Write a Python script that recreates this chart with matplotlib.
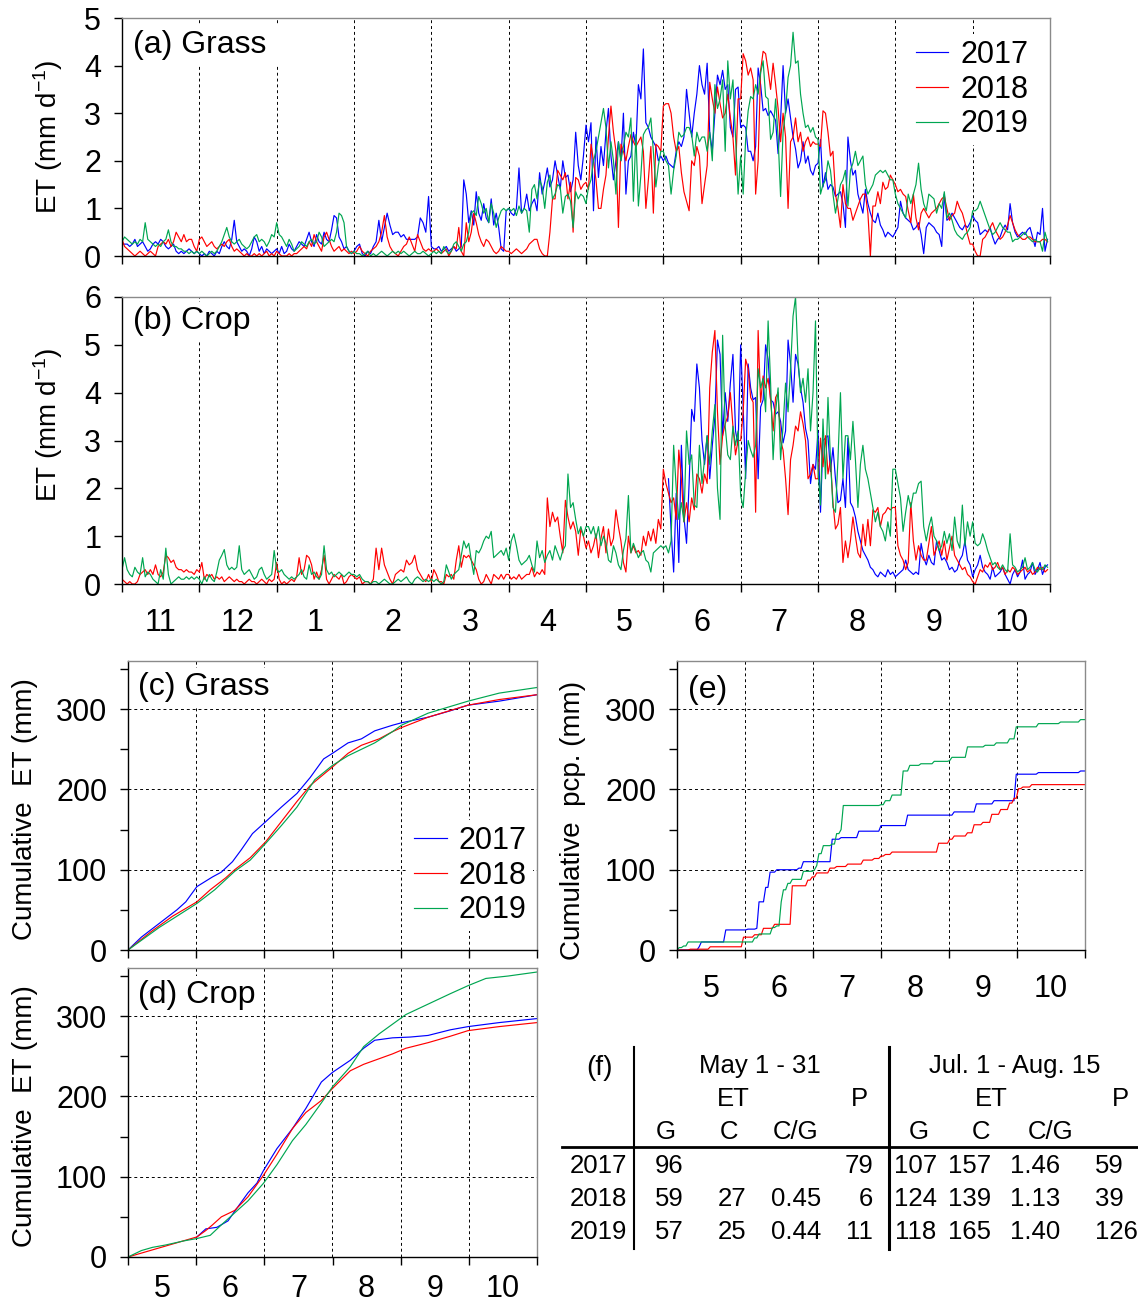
import numpy as np
import matplotlib
matplotlib.use("Agg")
import matplotlib.pyplot as plt
from matplotlib.lines import Line2D

plt.rcParams['font.family'] = ['Liberation Sans', 'DejaVu Sans']
plt.rcParams['mathtext.default'] = 'regular'

YEARS = ['2017', '2018', '2019']
COLORS = ['#0000ff', '#ff0000', '#00a651']
YEAR_MONTHS = ['11', '12', '1', '2', '3', '4', '5', '6', '7', '8', '9', '10']
SEASON_MONTHS = ['5', '6', '7', '8', '9', '10']
SEASON_DAYS = 184  # May 1 - Oct 31

# daily ET (mm/d), one list per month from November to October
grass_2017 = [
    [0.25, 0.25, 0.25, 0.2, 0.25, 0.35, 0.2, 0.25, 0.3, 0.2, 0.1, 0.15, 0.25, 0.3, 0.25, 0.35, 0.3, 0.2, 0.15, 0.2, 0.25, 0.1, 0.05, 0.1, 0.05, 0.1, 0.15, 0.1, 0.05, 0.1],
    [0.05, 0.0, 0.05, 0.0, 0.1, 0.05, 0.0, 0.1, 0.05, 0.2, 0.3, 0.2, 0.15, 0.35, 0.75, 0.3, 0.2, 0.1, 0.15, 0.1, 0.0, 0.15, 0.4, 0.3, 0.1, 0.2, 0.05, 0.15, 0.1, 0.05, 0.1],
    [0.15, 0.05, 0.2, 0.05, 0.1, 0.25, 0.15, 0.1, 0.2, 0.3, 0.25, 0.2, 0.35, 0.5, 0.3, 0.2, 0.45, 0.3, 0.25, 0.5, 0.35, 0.3, 0.55, 0.85, 0.8, 0.4, 0.3, 0.15, 0.2, 0.1, 0.05],
    [0.1, 0.2, 0.25, 0.05, 0.0, 0.1, 0.05, 0.2, 0.3, 0.75, 0.3, 0.6, 0.9, 0.65, 0.45, 0.5, 0.5, 0.4, 0.45, 0.35, 0.35, 0.35, 0.35, 0.4, 0.8, 0.7, 0.5, 1.25],
    [0.2, 0.15, 0.15, 0.2, 0.1, 0.15, 0.2, 0.1, 0.15, 0.2, 0.1, 0.15, 0.2, 1.6, 1.3, 0.7, 0.95, 0.65, 1.35, 0.9, 0.75, 1.1, 0.8, 0.7, 1.2, 0.65, 0.9, 0.6, 0.15, 0.1, 0.95],
    [1.0, 0.9, 0.85, 1.0, 1.85, 0.9, 1.0, 1.3, 0.95, 1.1, 1.2, 0.95, 1.75, 1.3, 1.55, 1.85, 1.45, 1.6, 2.0, 1.7, 1.4, 2.0, 1.65, 1.7, 1.35, 1.6, 2.6, 1.9, 1.6, 2.1],
    [2.75, 2.4, 2.8, 0.95, 2.5, 1.65, 2.3, 1.9, 2.6, 3.1, 2.1, 1.6, 2.0, 2.4, 2.0, 3.0, 1.3, 2.0, 2.1, 2.6, 2.3, 3.6, 3.3, 4.35, 2.8, 2.7, 2.5, 2.4, 2.3, 2.0, 2.1],
    [2.0, 2.1, 1.95, 1.9, 1.85, 2.2, 2.4, 2.3, 2.5, 3.5, 3.0, 2.5, 3.0, 3.4, 4.0, 3.6, 3.4, 4.05, 2.6, 2.2, 3.0, 3.8, 3.6, 3.9, 3.5, 3.6, 2.7, 2.5, 3.5, 3.55],
    [2.7, 2.75, 2.7, 2.2, 2.2, 2.0, 2.3, 3.95, 3.6, 3.05, 3.1, 2.95, 3.05, 2.95, 2.85, 2.15, 2.85, 4.0, 3.0, 3.3, 2.9, 2.5, 2.25, 1.85, 2.0, 2.4, 1.95, 2.1, 1.8, 1.7, 1.9],
    [1.95, 2.45, 1.45, 1.75, 1.4, 1.5, 1.45, 1.25, 1.3, 1.35, 1.1, 0.6, 2.5, 2.0, 1.7, 1.8, 1.3, 1.1, 0.9, 1.4, 1.1, 0.9, 0.75, 0.7, 0.9, 0.65, 0.55, 0.4, 0.5, 0.45, 0.4],
    [0.5, 0.6, 1.15, 0.9, 0.8, 0.75, 0.7, 0.55, 0.6, 0.7, 0.45, 0.05, 0.6, 0.7, 0.65, 0.6, 0.5, 0.45, 0.2, 1.3, 0.75, 0.8, 0.9, 0.8, 0.7, 0.6, 0.55, 0.65, 0.6, 0.7],
    [0.85, 0.75, 0.7, 0.45, 0.5, 0.55, 0.5, 0.6, 0.4, 0.25, 0.35, 0.4, 0.55, 0.65, 0.55, 1.1, 0.7, 0.5, 0.4, 0.45, 0.5, 0.45, 0.55, 0.6, 0.4, 0.2, 0.5, 0.45, 1.0, 0.1, 0.35],
]
grass_2018 = [
    [0.35, 0.2, 0.15, 0.1, 0.05, 0.0, 0.05, 0.1, 0.05, 0.0, 0.05, 0.1, 0.05, 0.0, 0.2, 0.25, 0.3, 0.25, 0.35, 0.2, 0.3, 0.5, 0.4, 0.3, 0.45, 0.3, 0.35, 0.35, 0.2, 0.1],
    [0.35, 0.4, 0.3, 0.2, 0.25, 0.3, 0.2, 0.15, 0.2, 0.25, 0.2, 0.3, 0.35, 0.2, 0.1, 0.15, 0.1, 0.05, 0.0, 0.05, 0.0, 0.0, 0.05, 0.0, 0.05, 0.0, 0.05, 0.1, 0.0, 0.05, 0.0],
    [0.1, 0.05, 0.0, 0.0, 0.0, 0.05, 0.0, 0.05, 0.05, 0.1, 0.15, 0.2, 0.15, 0.3, 0.2, 0.45, 0.3, 0.2, 0.1, 0.4, 0.5, 0.35, 0.2, 0.1, 0.15, 0.2, 0.1, 0.15, 0.1, 0.05, 0.1],
    [0.05, 0.1, 0.2, 0.1, 0.05, 0.0, 0.1, 0.15, 0.2, 0.3, 0.5, 0.85, 0.4, 0.2, 0.1, 0.05, 0.0, 0.1, 0.2, 0.25, 0.4, 0.25, 0.1, 0.45, 0.3, 0.15, 0.1, 0.15],
    [0.1, 0.1, 0.15, 0.1, 0.05, 0.1, 0.15, 0.0, 0.1, 0.2, 0.15, 0.6, 0.1, 0.0, 0.7, 0.3, 0.5, 0.9, 0.7, 0.45, 0.3, 0.2, 0.35, 0.3, 0.2, 0.1, 0.05, 0.1, 0.2, 0.15, 0.1],
    [0.1, 0.05, 0.1, 0.15, 0.1, 0.05, 0.1, 0.15, 0.25, 0.3, 0.35, 0.35, 0.15, 0.05, 0.0, 0.0, 0.5, 1.2, 1.2, 1.8, 1.7, 1.6, 1.75, 1.2, 1.55, 0.5, 1.65, 1.6, 1.4, 1.5],
    [1.55, 1.4, 2.35, 2.0, 1.6, 1.0, 1.0, 1.4, 1.7, 2.5, 3.15, 2.6, 2.2, 0.6, 2.35, 2.2, 2.0, 2.3, 2.55, 2.4, 2.3, 2.4, 2.5, 2.2, 1.0, 1.6, 2.3, 0.9, 2.35, 2.3, 2.2],
    [3.15, 3.2, 3.2, 3.0, 2.5, 2.2, 2.3, 1.75, 1.35, 1.15, 0.95, 2.0, 1.9, 2.3, 2.1, 1.1, 1.5, 1.9, 3.65, 3.3, 3.0, 3.55, 3.2, 2.9, 3.0, 3.4, 2.9, 2.5, 1.7, 3.3],
    [3.3, 4.25, 4.1, 3.8, 3.95, 3.7, 1.3, 2.0, 3.9, 4.3, 4.25, 3.9, 3.5, 4.05, 3.6, 3.1, 2.4, 3.0, 2.5, 1.0, 2.4, 2.5, 2.9, 2.4, 2.6, 2.2, 2.4, 2.5, 2.3, 2.4, 2.35],
    [2.35, 2.3, 3.05, 3.0, 2.6, 2.1, 2.2, 1.3, 1.0, 0.6, 1.5, 1.1, 1.0, 1.0, 0.75, 0.9, 1.05, 1.2, 1.3, 1.3, 0.9, 0.0, 1.05, 1.05, 1.35, 1.1, 1.55, 1.4, 1.45, 1.7, 1.6],
    [1.5, 1.35, 1.4, 1.3, 1.25, 0.95, 0.7, 1.3, 0.8, 0.55, 0.9, 1.0, 0.9, 0.8, 0.9, 0.95, 1.0, 1.1, 1.2, 1.25, 1.0, 0.75, 0.85, 0.9, 1.15, 1.0, 0.9, 0.7, 0.45, 0.25],
    [0.25, 0.1, 0.0, 0.0, 0.35, 0.4, 0.5, 0.6, 0.7, 0.55, 0.45, 0.35, 0.4, 0.5, 0.65, 0.85, 0.7, 0.55, 0.45, 0.4, 0.35, 0.35, 0.4, 0.4, 0.35, 0.3, 0.3, 0.3, 0.35, 0.35, 0.3],
]
grass_2019 = [
    [0.3, 0.4, 0.35, 0.3, 0.25, 0.3, 0.25, 0.35, 0.3, 0.7, 0.35, 0.3, 0.25, 0.2, 0.25, 0.2, 0.3, 0.35, 0.55, 0.3, 0.2, 0.2, 0.15, 0.15, 0.1, 0.1, 0.05, 0.1, 0.05, 0.1],
    [0.05, 0.1, 0.05, 0.0, 0.05, 0.1, 0.05, 0.1, 0.2, 0.3, 0.45, 0.6, 0.4, 0.3, 0.25, 0.3, 0.35, 0.25, 0.2, 0.15, 0.2, 0.3, 0.4, 0.45, 0.3, 0.35, 0.3, 0.2, 0.3, 0.45, 0.4],
    [0.7, 0.45, 0.4, 0.3, 0.2, 0.35, 0.25, 0.1, 0.15, 0.2, 0.3, 0.25, 0.2, 0.3, 0.35, 0.25, 0.3, 0.5, 0.4, 0.2, 0.25, 0.3, 0.35, 0.3, 0.5, 0.9, 0.85, 0.7, 0.2, 0.1, 0.05],
    [0.1, 0.05, 0.05, 0.0, 0.05, 0.1, 0.0, 0.05, 0.0, 0.05, 0.1, 0.05, 0.0, 0.05, 0.1, 0.05, 0.1, 0.05, 0.1, 0.05, 0.0, 0.05, 0.1, 0.05, 0.05, 0.1, 0.05, 0.0],
    [0.05, 0.1, 0.05, 0.1, 0.05, 0.2, 0.1, 0.05, 0.1, 0.25, 0.3, 0.2, 0.1, 0.25, 0.3, 0.5, 0.9, 0.95, 0.85, 1.25, 1.1, 0.9, 1.0, 0.7, 1.1, 0.9, 0.6, 0.8, 0.95, 1.0, 0.95],
    [1.0, 0.95, 1.0, 0.85, 1.05, 0.9, 1.0, 0.95, 0.5, 1.4, 1.5, 1.2, 1.6, 1.45, 1.0, 1.55, 1.7, 1.2, 1.3, 1.5, 1.45, 0.9, 1.25, 1.3, 1.15, 0.6, 1.35, 1.2, 1.3, 1.25],
    [1.1, 1.45, 1.6, 2.0, 2.2, 2.5, 2.8, 3.1, 2.7, 1.85, 2.4, 2.0, 1.3, 2.4, 2.0, 2.3, 2.6, 2.5, 2.9, 1.15, 2.55, 1.05, 1.7, 2.55, 2.65, 2.7, 2.9, 2.2, 1.45, 1.9, 2.2],
    [2.2, 2.0, 1.9, 1.3, 1.8, 2.1, 2.6, 2.5, 2.55, 2.7, 2.7, 2.55, 2.1, 2.6, 2.4, 2.5, 2.5, 2.2, 2.6, 2.0, 3.6, 3.1, 3.3, 3.7, 2.2, 4.1, 3.3, 3.7, 2.5, 1.3],
    [2.1, 1.3, 2.45, 3.05, 3.35, 3.3, 3.6, 3.4, 3.85, 4.1, 3.35, 3.3, 2.45, 2.6, 3.3, 2.5, 1.25, 2.6, 3.05, 3.75, 4.0, 4.7, 4.05, 4.1, 3.4, 3.0, 2.7, 2.75, 2.6, 2.7, 2.5],
    [2.45, 1.3, 1.5, 1.6, 2.0, 1.8, 1.3, 0.9, 1.2, 1.5, 1.6, 1.8, 1.05, 1.8, 1.95, 2.2, 1.9, 2.0, 2.1, 1.5, 1.3, 1.4, 1.5, 1.7, 1.75, 1.8, 1.75, 1.8, 1.7, 1.6, 1.6],
    [1.3, 1.1, 1.0, 0.9, 0.8, 1.3, 1.1, 1.3, 1.5, 1.95, 1.4, 1.1, 0.95, 1.3, 1.25, 1.2, 0.9, 1.1, 1.0, 1.35, 0.8, 0.9, 0.75, 0.55, 0.45, 0.4, 0.35, 0.45, 0.5, 0.6],
    [0.95, 0.95, 1.0, 1.15, 1.0, 0.85, 0.7, 0.55, 0.45, 0.5, 0.6, 0.7, 0.6, 0.55, 0.5, 0.5, 0.3, 0.35, 0.35, 0.4, 0.45, 0.5, 0.4, 0.35, 0.3, 0.35, 0.3, 0.3, 0.1, 0.5, 0.3],
]

# crop ET; no 2017 crop record before early June
crop_2017 = [
    [], [], [], [], [], [], [],
    [None, None, 2.2, 1.15, 0.25, 1.9, 0.45, 2.9, 1.4, 0.85, 2.1, 3.65, 3.4, 4.6, 4.1, 3.0, 2.5, 3.1, 2.2, 2.9, 3.5, 5.1, 4.8, 3.1, 4.0, 3.4, 4.2, 4.8, 3.2, 2.9],
    [5.0, 3.7, 2.2, 4.6, 4.1, 3.85, 3.9, 2.2, 3.7, 3.85, 5.0, 4.7, 3.85, 3.8, 3.55, 3.6, 3.4, 2.95, 3.2, 5.1, 4.6, 3.8, 4.8, 4.6, 4.1, 3.8, 3.25, 3.0, 2.1, 2.5, 2.4],
    [3.2, 1.5, 3.0, 3.05, 3.1, 2.35, 2.85, 2.2, 1.7, 1.75, 2.2, 1.6, 3.05, 1.7, 1.6, 1.4, 1.1, 0.9, 0.7, 0.6, 0.5, 0.35, 0.3, 0.2, 0.15, 0.25, 0.2, 0.15, 0.3, 0.2, 0.25],
    [0.15, 0.2, 0.25, 0.3, 0.5, 0.3, 0.25, 0.2, 0.25, 0.2, 0.85, 0.55, 0.4, 0.6, 0.45, 0.4, 0.9, 0.7, 0.5, 0.55, 0.45, 0.3, 0.35, 0.25, 0.3, 0.5, 0.6, 0.9, 0.5, 0.4],
    [0.15, 0.3, 0.4, 0.6, 0.35, 0.25, 0.2, 0.1, 0.35, 0.15, 0.2, 0.25, 0.35, 0.2, 0.1, 0.0, 0.2, 0.3, 0.15, 0.25, 0.5, 0.1, 0.2, 0.25, 0.45, 0.2, 0.3, 0.45, 0.2, 0.35, 0.4],
]
crop_2018 = [
    [0.1, 0.05, 0.0, 0.05, 0.0, 0.0, 0.05, 0.2, 0.25, 0.3, 0.2, 0.3, 0.2, 0.4, 0.2, 0.15, 0.25, 0.6, 0.55, 0.45, 0.5, 0.35, 0.3, 0.3, 0.25, 0.3, 0.25, 0.25, 0.2, 0.3],
    [0.25, 0.45, 0.1, 0.2, 0.15, 0.2, 0.1, 0.15, 0.1, 0.15, 0.05, 0.1, 0.15, 0.1, 0.05, 0.1, 0.05, 0.05, 0.0, 0.05, 0.1, 0.05, 0.05, 0.0, 0.05, 0.1, 0.05, 0.0, 0.1, 0.05, 0.1],
    [0.45, 0.1, 0.0, 0.05, 0.0, 0.05, 0.1, 0.05, 0.15, 0.55, 0.2, 0.3, 0.6, 0.55, 0.4, 0.1, 0.25, 0.1, 0.3, 0.6, 0.1, 0.0, 0.1, 0.2, 0.15, 0.1, 0.2, 0.0, 0.05, 0.15, 0.2],
    [0.15, 0.1, 0.15, 0.0, 0.05, 0.05, 0.0, 0.1, 0.75, 0.3, 0.75, 0.4, 0.25, 0.1, 0.0, 0.2, 0.25, 0.3, 0.25, 0.5, 0.4, 0.45, 0.6, 0.3, 0.2, 0.1, 0.05, 0.2],
    [0.05, 0.3, 0.2, 0.05, 0.05, 0.0, 0.2, 0.15, 0.2, 0.1, 0.5, 0.8, 0.35, 0.6, 0.55, 0.6, 0.5, 0.4, 0.3, 0.1, 0.0, 0.05, 0.2, 0.1, 0.0, 0.2, 0.15, 0.1, 0.2, 0.1, 0.2],
    [0.2, 0.1, 0.15, 0.1, 0.2, 0.1, 0.15, 0.2, 0.2, 0.35, 0.15, 0.25, 0.2, 0.3, 0.2, 1.8, 1.2, 1.5, 1.3, 1.4, 1.0, 0.65, 1.75, 1.4, 1.15, 1.3, 1.1, 0.6, 1.15, 1.0],
    [0.75, 0.9, 0.65, 0.8, 1.05, 0.55, 0.95, 1.2, 0.65, 1.15, 0.8, 0.95, 1.55, 1.2, 0.9, 0.45, 0.25, 1.0, 0.65, 0.8, 0.65, 0.7, 0.6, 1.0, 0.8, 1.1, 0.9, 1.15, 0.85, 1.35, 1.15],
    [2.4, 2.1, 1.9, 1.7, 1.8, 1.35, 2.8, 2.2, 1.3, 1.7, 1.3, 1.8, 1.55, 2.3, 2.2, 1.9, 2.3, 2.1, 4.1, 4.85, 5.3, 3.6, 2.5, 3.1, 3.35, 3.5, 4.0, 3.3, 2.7, 3.0],
    [3.0, 3.6, 4.7, 4.5, 3.9, 3.8, 1.5, 5.3, 3.8, 4.35, 4.1, 4.3, 3.85, 3.2, 3.9, 4.0, 3.0, 2.8, 2.2, 1.45, 2.6, 2.9, 3.3, 3.2, 3.6, 3.35, 3.0, 2.2, 2.3, 2.5, 2.2],
    [2.2, 3.05, 2.45, 3.1, 2.3, 2.6, 1.7, 1.15, 1.25, 1.6, 0.45, 0.9, 0.55, 0.9, 1.4, 1.0, 0.65, 0.55, 1.25, 0.8, 1.35, 0.8, 1.55, 1.5, 1.6, 1.2, 1.45, 1.5, 1.6, 1.55, 1.6],
    [1.6, 0.8, 0.6, 0.5, 0.3, 0.45, 1.7, 0.9, 0.5, 0.8, 0.6, 0.5, 0.5, 0.85, 1.2, 0.6, 0.75, 0.9, 0.6, 0.9, 0.5, 0.75, 1.0, 0.6, 0.5, 0.4, 0.3, 0.35, 0.2, 0.15],
    [0.05, 0.0, 0.15, 0.3, 0.25, 0.4, 0.35, 0.45, 0.3, 0.35, 0.45, 0.3, 0.35, 0.2, 0.3, 0.25, 0.35, 0.3, 0.2, 0.25, 0.3, 0.35, 0.25, 0.3, 0.2, 0.25, 0.35, 0.3, 0.35, 0.25, 0.3],
]
crop_2019 = [
    [0.3, 0.55, 0.3, 0.2, 0.15, 0.35, 0.25, 0.2, 0.55, 0.15, 0.25, 0.2, 0.1, 0.05, 0.0, 0.3, 0.1, 0.75, 0.2, 0.0, 0.05, 0.1, 0.15, 0.1, 0.1, 0.15, 0.1, 0.15, 0.1, 0.15],
    [0.1, 0.0, 0.15, 0.05, 0.2, 0.1, 0.05, 0.25, 0.5, 0.6, 0.72, 0.4, 0.3, 0.35, 0.3, 0.35, 0.8, 0.3, 0.2, 0.25, 0.3, 0.2, 0.1, 0.15, 0.3, 0.35, 0.2, 0.1, 0.15, 0.2, 0.7],
    [0.3, 0.25, 0.3, 0.2, 0.15, 0.1, 0.15, 0.1, 0.15, 0.2, 0.3, 0.15, 0.1, 0.4, 0.2, 0.25, 0.15, 0.1, 0.2, 0.8, 0.3, 0.2, 0.25, 0.15, 0.2, 0.25, 0.2, 0.15, 0.2, 0.25, 0.2],
    [0.2, 0.15, 0.2, 0.1, 0.05, 0.05, 0.0, 0.05, 0.05, 0.0, 0.05, 0.1, 0.05, 0.0, 0.0, 0.05, 0.1, 0.05, 0.1, 0.15, 0.05, 0.0, 0.1, 0.15, 0.1, 0.05, 0.1, 0.05],
    [0.1, 0.05, 0.1, 0.05, 0.0, 0.05, 0.4, 0.25, 0.1, 0.2, 0.25, 0.3, 0.6, 0.9, 0.75, 0.85, 0.5, 0.2, 0.7, 0.65, 0.75, 0.9, 1.0, 0.95, 1.1, 0.55, 0.6, 0.65, 0.7, 0.6, 0.75],
    [0.5, 0.9, 1.05, 0.8, 0.5, 0.4, 0.45, 0.5, 0.6, 0.4, 0.25, 0.9, 0.55, 0.7, 0.45, 0.6, 0.7, 0.5, 0.8, 0.65, 0.5, 0.7, 0.8, 2.3, 1.6, 1.7, 1.35, 1.05, 1.2, 1.0],
    [1.2, 1.2, 1.05, 1.2, 0.95, 1.2, 0.8, 1.0, 0.85, 0.5, 0.45, 0.8, 0.65, 0.4, 0.3, 0.7, 0.95, 1.85, 0.65, 0.85, 0.7, 0.55, 0.65, 0.7, 0.5, 0.45, 0.25, 0.65, 0.7, 0.75, 0.8],
    [0.75, 0.8, 0.65, 0.9, 2.9, 2.0, 1.35, 1.7, 1.3, 3.2, 2.5, 2.7, 1.65, 1.6, 2.9, 2.1, 2.6, 3.1, 2.5, 3.2, 3.75, 2.0, 1.35, 5.2, 3.3, 2.7, 2.6, 3.3, 2.9, 3.2],
    [1.85, 1.6, 2.35, 3.0, 2.8, 2.65, 2.9, 4.5, 4.1, 4.3, 3.6, 5.5, 4.2, 2.6, 3.6, 4.1, 2.6, 3.3, 4.2, 3.6, 4.5, 5.6, 6.0, 4.7, 4.0, 4.3, 3.8, 4.5, 3.2, 4.0, 5.5],
    [2.4, 1.65, 3.45, 2.2, 3.9, 2.6, 1.6, 1.5, 2.6, 4.0, 2.2, 3.1, 3.1, 2.6, 3.4, 2.6, 1.6, 2.5, 2.9, 2.4, 2.2, 1.9, 1.6, 1.3, 1.5, 1.2, 1.1, 0.9, 1.3, 1.0, 2.4],
    [2.4, 2.1, 1.8, 1.1, 1.5, 1.85, 1.6, 1.9, 1.9, 2.1, 2.15, 1.2, 0.9, 1.2, 1.4, 1.0, 0.9, 0.7, 0.8, 1.1, 0.85, 1.05, 0.7, 1.4, 0.9, 0.75, 1.65, 0.8, 1.3, 1.0],
    [1.3, 0.85, 0.8, 0.85, 1.05, 0.9, 0.7, 0.55, 0.4, 0.45, 0.35, 0.3, 0.4, 0.3, 0.25, 1.05, 0.4, 0.35, 0.25, 0.3, 0.35, 0.55, 0.3, 0.35, 0.45, 0.3, 0.25, 0.35, 0.3, 0.4, 0.35],
]

# cumulative ET since May 1: (day of season, mm)
cum_grass_days = [
    [0, 6, 14, 22, 26, 31, 38, 42, 47, 51, 56, 62, 69, 76, 82, 88, 92, 99, 105, 111, 119, 123, 135, 145, 153, 167, 184],
    [0, 10, 20, 31, 37, 44, 48, 55, 62, 69, 76, 82, 92, 99, 105, 113, 119, 123, 135, 153, 167, 184],
    [0, 14, 31, 39, 48, 55, 62, 69, 76, 80, 84, 92, 99, 111, 119, 123, 135, 153, 167, 184],
]
cum_grass_mm = [
    [0, 16, 33, 50, 60, 79, 91, 97, 110, 125, 145, 160, 178, 195, 215, 238, 245, 258, 263, 273, 280, 283, 290, 298, 305, 310, 318],
    [0, 22, 42, 60, 75, 90, 100, 115, 135, 160, 185, 205, 228, 245, 255, 263, 272, 277, 290, 305, 312, 318],
    [0, 28, 58, 75, 98, 112, 133, 155, 178, 195, 212, 230, 242, 258, 272, 280, 295, 310, 320, 327],
]
cum_crop_days = [
    [31, 35, 40, 45, 48, 54, 58, 61, 67, 74, 80, 87, 92, 100, 106, 111, 119, 127, 135, 145, 153, 167, 184],
    [0, 31, 35, 38, 42, 48, 54, 61, 67, 74, 80, 87, 92, 100, 106, 113, 119, 125, 135, 145, 153, 167, 184],
    [0, 6, 11, 17, 25, 31, 37, 42, 48, 54, 61, 67, 74, 80, 87, 92, 100, 106, 113, 119, 125, 135, 145, 153, 161, 171, 184],
]
cum_crop_mm = [
    [25, 35, 37, 45, 57, 80, 92, 108, 135, 160, 185, 218, 230, 245, 260, 270, 273, 274, 276, 283, 287, 292, 297],
    [0, 25, 33, 40, 50, 58, 75, 102, 128, 160, 180, 195, 210, 232, 240, 247, 253, 260, 267, 275, 282, 287, 292],
    [0, 8, 12, 15, 20, 23, 27, 40, 55, 70, 92, 115, 145, 165, 192, 212, 237, 262, 278, 290, 302, 315, 328, 338, 347, 350, 355],
]

# rain events since May 1: (day of season, mm)
rain_days = [
    [10, 11, 22, 32, 36, 37, 40, 42, 45, 55, 57, 70, 74, 82, 92, 104, 125, 135, 143, 153, 163, 182],
    [6, 15, 30, 35, 39, 44, 52, 59, 61, 63, 69, 72, 77, 84, 89, 92, 94, 97, 118, 123, 125, 131, 134, 138, 142, 146, 150, 152, 154, 156, 160],
    [1, 3, 5, 35, 37, 43, 45, 47, 48, 50, 52, 57, 62, 63, 64, 66, 70, 72, 74, 75, 92, 94, 97, 102, 105, 110, 116, 123, 124, 131, 139, 144, 150, 153, 163, 173, 182],
]
rain_mm = [
    [4, 6, 15, 1, 1, 33, 18, 19, 3, 2, 8, 28, 2, 8, 7, 13, 4, 10, 4, 33, 2, 2],
    [1, 3, 12, 3, 8, 5, 48, 7, 4, 5, 6, 2, 3, 5, 2, 3, 2, 3, 11, 5, 4, 4, 10, 3, 10, 6, 8, 6, 12, 2, 3],
    [3, 2, 5, 5, 5, 8, 2, 30, 15, 8, 5, 10, 2, 5, 15, 10, 2, 13, 5, 30, 1, 5, 7, 30, 7, 2, 3, 1, 4, 13, 2, 3, 5, 15, 4, 2, 3],
]

# table (f)
table_years = ['2017', '2018', '2019']
may_grass = [96, 59, 57]
may_crop = [None, 27, 25]
may_ratio = [None, 0.45, 0.44]
may_pcp = [79, 6, 11]
jul_grass = [107, 124, 118]
jul_crop = [157, 139, 165]
jul_ratio = [1.46, 1.13, 1.40]
jul_pcp = [59, 39, 126]


def month_series(months):
    xs, ys = [], []
    for m, vals in enumerate(months):
        for i, v in enumerate(vals):
            xs.append(m + i / len(vals))
            ys.append(np.nan if v is None else v)
    return np.array(xs), np.array(ys, dtype=float)


def season_x(days):
    return np.asarray(days, dtype=float) * 6 / SEASON_DAYS


W, H = 1138, 1305
fig = plt.figure(figsize=(W / 100, H / 100), dpi=100)
fig.patch.set_facecolor('white')


def box(x0, y0, x1, y1):
    return [x0 / W, 1 - y1 / H, (x1 - x0) / W, (y1 - y0) / H]


def frame(ax):
    for side in ('top', 'right'):
        ax.spines[side].set_color('#8a8a8a')
    for side in ('left', 'bottom'):
        ax.spines[side].set_color('black')
    for s in ax.spines.values():
        s.set_linewidth(1.0)
        s.set_zorder(3)
    ax.tick_params(which='both', direction='out', length=6, width=1, labelsize=22)
    ax.tick_params(axis='y', which='both', pad=9)


def dashed_grid(ax, xs, ys=()):
    for x in xs:
        ax.axvline(x, color='k', lw=0.7, ls=(0, (3, 3)), zorder=0.5)
    for y in ys:
        ax.axhline(y, color='k', lw=0.7, ls=(0, (3, 3)), zorder=0.5)


def panel_label(ax, x, y, s):
    ax.text(x, y, s, transform=ax.transAxes, fontsize=23, ha='left', va='center',
            zorder=1.5, bbox=dict(facecolor='white', edgecolor='none', pad=3))


def year_legend(ax, anchor):
    ax.legend(loc='upper right', bbox_to_anchor=anchor, fontsize=22, frameon=True,
              fancybox=False, edgecolor='none', framealpha=1, handlelength=1.05,
              handletextpad=0.4, labelspacing=0.15, borderpad=0.2, borderaxespad=0)


ax_a = fig.add_axes(box(122, 18, 1050, 256))
ax_b = fig.add_axes(box(122, 297, 1050, 584))
ax_c = fig.add_axes(box(128, 661, 537, 950))
ax_d = fig.add_axes(box(128, 968, 537, 1257))
ax_e = fig.add_axes(box(677, 661, 1085, 950))

# (a), (b) daily ET over the hydrological year
for ax, series, top in ((ax_a, [grass_2017, grass_2018, grass_2019], 5),
                        (ax_b, [crop_2017, crop_2018, crop_2019], 6)):
    frame(ax)
    dashed_grid(ax, range(1, 12))
    for months, c, yr in zip(series, COLORS, YEARS):
        x, y = month_series(months)
        ax.plot(x, y, color=c, lw=0.85, zorder=2, label=yr)
    ax.set_xlim(0, 12)
    ax.set_ylim(0, top)
    ax.set_yticks(range(top + 1))
    ax.set_xticks(range(13))
    ax.set_xticklabels([])

ax_b.set_xticks(np.arange(12) + 0.5, minor=True)
ax_b.set_xticklabels(YEAR_MONTHS, minor=True)
ax_b.tick_params(axis='x', which='minor', length=0, pad=17)

panel_label(ax_a, 0.012, 0.885, '(a) Grass ')
panel_label(ax_b, 0.012, 0.915, '(b) Crop')
year_legend(ax_a, (0.983, 0.933))

# (c), (d) cumulative ET, (e) cumulative precipitation over May - Oct
for ax in (ax_c, ax_d, ax_e):
    frame(ax)
    dashed_grid(ax, range(1, 6), (100, 200, 300))
    ax.set_xlim(0, 6)
    ax.set_ylim(0, 360)
    ax.set_yticks([0, 100, 200, 300])
    ax.set_yticks([50, 150, 250, 350], minor=True)
    ax.set_xticks(range(7))
    ax.set_xticklabels([])

for ax, pad in ((ax_d, 12), (ax_e, 17)):
    ax.set_xticks(np.arange(6) + 0.5, minor=True)
    ax.set_xticklabels(SEASON_MONTHS, minor=True)
    ax.tick_params(axis='x', which='minor', length=0, pad=pad)

for days, mm, c, yr in zip(cum_grass_days, cum_grass_mm, COLORS, YEARS):
    ax_c.plot(season_x(days), mm, color=c, lw=0.85, zorder=2, label=yr)
for days, mm, c in zip(cum_crop_days, cum_crop_mm, COLORS):
    ax_d.plot(season_x(days), mm, color=c, lw=0.85, zorder=2)
for days, mm, c in zip(rain_days, rain_mm, COLORS):
    daily = np.zeros(SEASON_DAYS + 1)
    np.add.at(daily, days, mm)
    ax_e.plot(season_x(np.arange(SEASON_DAYS + 1)), np.cumsum(daily), color=c, lw=0.85, zorder=2)

panel_label(ax_c, 0.024, 0.91, '(c) Grass')
panel_label(ax_d, 0.024, 0.907, '(d) Crop')
panel_label(ax_e, 0.027, 0.9, '(e)')
year_legend(ax_c, (0.99, 0.45))


def ftext(x, y, s, ha='center', size=18.5):
    fig.text(x / W, 1 - y / H, s, ha=ha, va='center', fontsize=size)


def fline(x0, y0, x1, y1, lw=1.5):
    fig.add_artist(Line2D([x0 / W, x1 / W], [1 - y0 / H, 1 - y1 / H], color='k', lw=lw))


# axis titles
fig.text(48 / W, 1 - 137 / H, 'ET (mm d$^{-1}$)', rotation=90, ha='center', va='center', fontsize=20)
fig.text(48 / W, 1 - 425 / H, 'ET (mm d$^{-1}$)', rotation=90, ha='center', va='center', fontsize=20)
fig.text(25 / W, 1 - 809 / H, 'Cumulative  ET (mm)', rotation=90, ha='center', va='center', fontsize=20)
fig.text(25 / W, 1 - 1116 / H, 'Cumulative  ET (mm)', rotation=90, ha='center', va='center', fontsize=20)
fig.text(573 / W, 1 - 820 / H, 'Cumulative  pcp. (mm)', rotation=90, ha='center', va='center', fontsize=20)

# (f) seasonal totals table
fline(634, 1047, 634, 1249, 1.5)
fline(889, 1047, 889, 1249, 2.2)
fline(562, 1147, 1138, 1147, 2.0)
ftext(599, 1068, '(f)', size=20)
ftext(760, 1066, 'May 1 - 31')
ftext(1015, 1066, 'Jul. 1 - Aug. 15')
for x, s in ((733, 'ET'), (859, 'P'), (991, 'ET'), (1120, 'P')):
    ftext(x, 1099, s)
for x, s in ((666, 'G'), (729, 'C'), (796, 'C/G'), (919, 'G'), (981, 'C'), (1051, 'C/G')):
    ftext(x, 1132, s)


def fmt(v, digits=0):
    if v is None:
        return ''
    return f'{v:.{digits}f}'


for i, yr in enumerate(table_years):
    y = 1166 + i * 33
    ftext(627, y, yr, ha='right')
    ftext(669, y, fmt(may_grass[i]))
    ftext(732, y, fmt(may_crop[i]))
    ftext(796, y, fmt(may_ratio[i], 2))
    ftext(873, y, fmt(may_pcp[i]), ha='right')
    ftext(916, y, fmt(jul_grass[i]))
    ftext(970, y, fmt(jul_crop[i]))
    ftext(1035, y, fmt(jul_ratio[i], 2))
    ftext(1095, y, fmt(jul_pcp[i]), ha='left')

fig.savefig('out.png', dpi=100)
